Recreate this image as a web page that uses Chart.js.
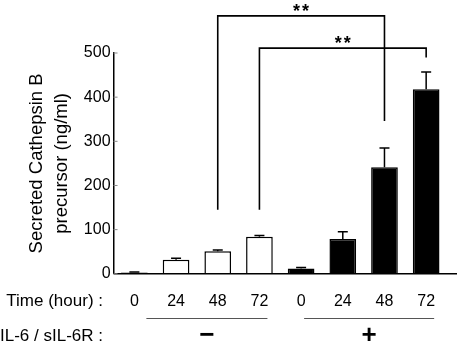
<!DOCTYPE html>
<html><head><meta charset="utf-8">
<script src="https://cdn.jsdelivr.net/npm/chart.js@4/dist/chart.umd.min.js"></script>
<style>html,body{margin:0;padding:0;background:#fff}#wrap{width:459px;height:344px}</style>
</head><body><div id="wrap"><canvas id="c" width="459" height="344"></canvas></div>
<script>
const timeLabels = ['0','24','48','72','0','24','48','72'];
const treatment = ['−','−','−','−','+','+','+','+'];
const means = [3, 32, 51, 84, 12, 79, 241, 418];
const errors = [1, 3, 3, 3, 2, 16, 44, 39];
const yTicks = [0, 100, 200, 300, 400, 500];
const bracketFrom = [2, 3];
const bracketTo = [6, 7];
const bracketTop = [584, 511];
const bracketLeftEnd = [145, 145];
const bracketRightEnd = [346, 490];
const bracketText = ['**', '**'];
const yTitle = ['Secreted Cathepsin B', 'precursor (ng/ml)'];
const xRowTitle = 'Time (hour) :';
const groupRowTitle = 'IL-6 / sIL-6R :';

const FONT = "'Liberation Sans', Arial, sans-serif";

const extras = {
  id: 'extras',
  afterDraw(chart) {
    const ctx = chart.ctx, x = chart.scales.x, y = chart.scales.y, ca = chart.chartArea;
    ctx.save();
    ctx.strokeStyle = '#000'; ctx.lineWidth = 1.5;
    ctx.beginPath(); ctx.moveTo(ca.left, ca.bottom); ctx.lineTo(ca.right + 10, ca.bottom); ctx.stroke();
    ctx.strokeStyle = '#888'; ctx.lineWidth = 1;
    yTicks.forEach(v => { const py = y.getPixelForValue(v); ctx.beginPath(); ctx.moveTo(ca.left, py); ctx.lineTo(ca.left + 4, py); ctx.stroke(); });
    ctx.strokeStyle = '#000'; ctx.lineWidth = 1.5;
    means.forEach((m, i) => {
      const px = x.getPixelForValue(i);
      const top = y.getPixelForValue(m + errors[i]);
      const base = y.getPixelForValue(m);
      ctx.beginPath(); ctx.moveTo(px, base); ctx.lineTo(px, top);
      ctx.moveTo(px - 5, top); ctx.lineTo(px + 5, top); ctx.stroke();
    });
    ctx.lineWidth = 1.6;
    bracketFrom.forEach((f, k) => {
      const x1 = x.getPixelForValue(f), x2 = x.getPixelForValue(bracketTo[k]);
      const yt = y.getPixelForValue(bracketTop[k]);
      ctx.beginPath();
      ctx.moveTo(x1, y.getPixelForValue(bracketLeftEnd[k]));
      ctx.lineTo(x1, yt); ctx.lineTo(x2, yt);
      ctx.lineTo(x2, y.getPixelForValue(bracketRightEnd[k]));
      ctx.stroke();
      ctx.fillStyle = '#000';
      ctx.font = 'bold 18px ' + FONT;
      ctx.letterSpacing = '2px';
      ctx.textAlign = 'center'; ctx.textBaseline = 'alphabetic';
      ctx.fillText(bracketText[k], (x1 + x2) / 2 + 1, yt + 1);
      ctx.letterSpacing = '0px';
    });
    ctx.fillStyle = '#000';
    ctx.font = '17px ' + FONT;
    ctx.textAlign = 'right'; ctx.textBaseline = 'middle';
    ctx.fillText(xRowTitle, 103, 301);
    ctx.textAlign = 'left';
    ctx.fillText(groupRowTitle, 0, 336);
    const groups = [...new Set(treatment)];
    groups.forEach(g => {
      const idx = treatment.map((t, i) => t === g ? i : -1).filter(i => i >= 0);
      const a = x.getPixelForValue(idx[0]) + (g === '−' ? 12 : 3);
      const b = x.getPixelForValue(idx[idx.length - 1]) + 8;
      ctx.strokeStyle = '#555'; ctx.lineWidth = 1;
      ctx.beginPath(); ctx.moveTo(a, 318.5); ctx.lineTo(b, 318.5); ctx.stroke();
      ctx.font = 'bold 26px ' + FONT;
      ctx.textAlign = 'center'; ctx.textBaseline = 'middle';
      ctx.fillText(g, (a + b) / 2, 336);
    });
    ctx.restore();
  }
};

new Chart(document.getElementById('c'), {
  type: 'bar',
  data: {
    labels: timeLabels,
    datasets: [{
      data: means,
      backgroundColor: treatment.map(t => t === '+' ? '#000' : '#fff'),
      borderColor: '#000',
      borderWidth: 1.5,
      borderSkipped: 'bottom',
      categoryPercentage: 1,
      barPercentage: 0.64
    }]
  },
  options: {
    responsive: false,
    animation: false,
    events: [],
    layout: { padding: { top: 53, right: 12, bottom: 15, left: 0 } },
    plugins: { legend: { display: false }, tooltip: { enabled: false } },
    scales: {
      x: {
        grid: { display: false, drawTicks: false },
        border: { display: false },
        ticks: { color: '#000', font: { family: FONT, size: 16 }, padding: 18, maxRotation: 0 }
      },
      y: {
        min: 0, max: 500,
        afterBuildTicks: s => { s.ticks = yTicks.map(v => ({ value: v })); },
        grid: { display: false, drawTicks: false },
        border: { display: true, color: '#000', width: 1.5 },
        ticks: { color: '#000', font: { family: FONT, size: 16 }, padding: 3 },
        title: { display: true, text: yTitle, color: '#000', font: { family: FONT, size: 18.5, lineHeight: 1.32 }, padding: { top: 25, bottom: 7 } }
      }
    }
  },
  plugins: [extras]
});
</script></body></html>
